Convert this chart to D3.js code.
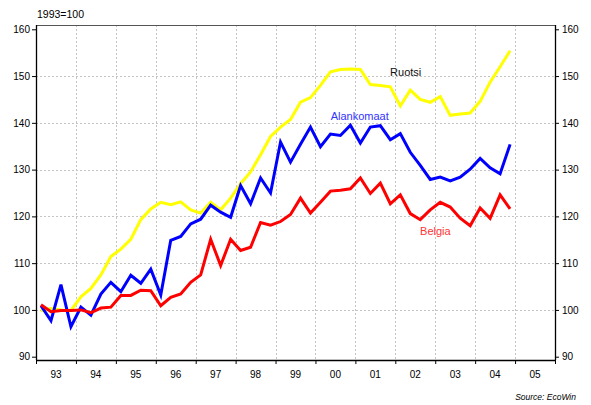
<!DOCTYPE html>
<html>
<head>
<meta charset="utf-8">
<script src="https://cdn.jsdelivr.net/npm/d3@7.9.0/dist/d3.min.js"></script>
<style>
  body { margin: 0; background: #fff; }
  svg { display: block; font-family: "Liberation Sans", Arial, sans-serif; }
</style>
</head>
<body>
<svg id="chart" width="591" height="405"></svg>
<script>
// Quarterly index, 1993=100
const quarters = [
    "1993Q1", "1993Q2", "1993Q3", "1993Q4", "1994Q1", "1994Q2", "1994Q3", "1994Q4",
    "1995Q1", "1995Q2", "1995Q3", "1995Q4", "1996Q1", "1996Q2", "1996Q3", "1996Q4",
    "1997Q1", "1997Q2", "1997Q3", "1997Q4", "1998Q1", "1998Q2", "1998Q3", "1998Q4",
    "1999Q1", "1999Q2", "1999Q3", "1999Q4", "2000Q1", "2000Q2", "2000Q3", "2000Q4",
    "2001Q1", "2001Q2", "2001Q3", "2001Q4", "2002Q1", "2002Q2", "2002Q3", "2002Q4",
    "2003Q1", "2003Q2", "2003Q3", "2003Q4", "2004Q1", "2004Q2", "2004Q3", "2004Q4"
];

const ruotsi = [
    99.8, 100.3, 100.0, 99.9, 102.8, 104.6, 107.5, 111.4,
    113.0, 115.1, 119.3, 121.6, 123.0, 122.5, 123.1, 121.4,
    120.7, 123.0, 121.4, 123.9, 127.0, 129.5, 133.2, 137.1,
    139.1, 140.7, 144.4, 145.4, 148.0, 150.9, 151.4, 151.5,
    151.4, 148.2, 148.0, 147.7, 143.6, 147.0, 145.0, 144.4,
    145.6, 141.6, 141.9, 142.1, 144.6, 148.7, 152.0, 155.4
];

const alankomaat = [
    100.9, 97.7, 105.4, 96.4, 100.6, 98.9, 103.4, 105.9,
    103.9, 107.4, 105.7, 108.7, 103.2, 114.9, 115.7, 118.4,
    119.4, 122.4, 120.9, 119.8, 126.6, 122.7, 128.2, 125.0,
    135.9, 131.6, 135.4, 139.1, 134.9, 137.6, 137.3, 139.5,
    135.7, 139.1, 139.4, 136.4, 137.7, 133.7, 130.9, 127.9,
    128.4, 127.6, 128.4, 130.1, 132.4, 130.4, 129.1, 135.4
];

const belgia = [
    101.1, 99.6, 99.9, 99.9, 100.0, 99.4, 100.4, 100.6,
    103.1, 103.1, 104.2, 104.1, 100.9, 102.7, 103.4, 105.9,
    107.5, 115.1, 109.5, 115.1, 112.7, 113.4, 118.7, 118.1,
    118.9, 120.4, 123.9, 120.7, 123.0, 125.4, 125.6, 125.9,
    128.2, 124.9, 127.1, 122.7, 124.6, 120.6, 119.3, 121.4,
    123.0, 122.0, 119.6, 118.0, 121.8, 119.6, 124.6, 121.6
];

const yearLabels = ["93", "94", "95", "96", "97", "98", "99", "00", "01", "02", "03", "04", "05"];
const yearStarts = [1993, 1994, 1995, 1996, 1997, 1998, 1999, 2000, 2001, 2002, 2003, 2004, 2005, 2006];
const yTicks = [90, 100, 110, 120, 130, 140, 150, 160];
const gridValues = [100, 110, 120, 130, 140, 150];

// Plot frame
const plotLeft = 36, plotRight = 555, plotTop = 25, plotBottom = 360;

const svg = d3.select("#chart");

// quarter "1993Q2" -> middle of that quarter as decimal year
function qPos(q) {
    return +q.slice(0, 4) + (+q.slice(5) - 0.5) / 4;
}

const x = d3.scaleLinear()
    .domain([1993, 2006])
    .range([plotLeft, plotRight]);

const y = d3.scaleLinear()
    .domain([90, 160])
    .range([356.7, 29.3]);

// Grid
const grid = svg.append("g")
    .attr("stroke", "#c4c4c4")
    .attr("stroke-width", 1)
    .attr("stroke-dasharray", "2,2")
    .attr("shape-rendering", "crispEdges");

grid.selectAll("line.h")
    .data(gridValues)
    .enter()
    .append("line")
    .attr("class", "h")
    .attr("x1", plotLeft)
    .attr("x2", plotRight)
    .attr("y1", d => Math.round(y(d)) + 0.5)
    .attr("y2", d => Math.round(y(d)) + 0.5);

grid.selectAll("line.v")
    .data(yearStarts.slice(1, -1))
    .enter()
    .append("line")
    .attr("class", "v")
    .attr("x1", d => Math.round(x(d)) + 0.5)
    .attr("x2", d => Math.round(x(d)) + 0.5)
    .attr("y1", plotTop)
    .attr("y2", plotBottom);

// Lines
const line = d3.line()
    .x((d, i) => x(qPos(quarters[i])))
    .y(d => y(d));

const series = [
    { values: ruotsi, color: "#ffff00" },
    { values: alankomaat, color: "#0000ff" },
    { values: belgia, color: "#ff0000" }
];

svg.selectAll("path.series")
    .data(series)
    .enter()
    .append("path")
    .attr("class", "series")
    .attr("fill", "none")
    .attr("stroke", d => d.color)
    .attr("stroke-width", 3)
    .attr("stroke-linejoin", "miter")
    .attr("d", d => line(d.values));

// Axes
const leftAxis = svg.append("g")
    .attr("transform", `translate(${plotLeft},0)`)
    .call(d3.axisLeft(y).tickValues(yTicks).tickSize(4).tickPadding(2).tickSizeOuter(0));

const rightAxis = svg.append("g")
    .attr("transform", `translate(${plotRight},0)`)
    .call(d3.axisRight(y).tickValues(yTicks).tickSize(4).tickPadding(3).tickSizeOuter(0));

const bottomAxis = svg.append("g")
    .attr("transform", `translate(0,${plotBottom})`)
    .call(d3.axisBottom(x).tickValues(yearStarts).tickFormat("").tickSize(4).tickSizeOuter(0));

[leftAxis, rightAxis, bottomAxis].forEach(g => {
    g.select(".domain").remove();
    g.selectAll("text")
        .attr("fill", "#000")
        .style("font-size", "10px")
        .style("font-family", "'Liberation Sans', Arial, sans-serif");
    g.selectAll(".tick line").attr("stroke", "#000");
});

// Frame lines
svg.append("line")
    .attr("x1", plotLeft).attr("x2", plotRight)
    .attr("y1", plotTop + 0.5).attr("y2", plotTop + 0.5)
    .attr("stroke", "#555");

svg.append("line")
    .attr("x1", plotLeft + 0.5).attr("x2", plotLeft + 0.5)
    .attr("y1", plotTop).attr("y2", plotBottom)
    .attr("stroke", "#000").attr("stroke-width", 1.3);

svg.append("line")
    .attr("x1", plotRight + 0.5).attr("x2", plotRight + 0.5)
    .attr("y1", plotTop).attr("y2", plotBottom)
    .attr("stroke", "#000").attr("stroke-width", 1.3);

svg.append("line")
    .attr("x1", plotLeft).attr("x2", plotRight + 1)
    .attr("y1", plotBottom + 0.5).attr("y2", plotBottom + 0.5)
    .attr("stroke", "#000").attr("stroke-width", 1.3);

// Year labels centred in each year
svg.append("g")
    .selectAll("text")
    .data(yearLabels)
    .enter()
    .append("text")
    .attr("x", (d, i) => x(yearStarts[i] + 0.5))
    .attr("y", 378)
    .attr("text-anchor", "middle")
    .style("font-size", "10px")
    .text(d => d);

// Unit label
svg.append("text")
    .attr("x", 37)
    .attr("y", 18)
    .style("font-size", "10.5px")
    .text("1993=100");

// Series labels
svg.append("text")
    .attr("x", x(2001.87))
    .attr("y", y(150))
    .attr("fill", "#111")
    .style("font-size", "11px")
    .text("Ruotsi");

svg.append("text")
    .attr("x", x(2000.38))
    .attr("y", y(140.6))
    .attr("fill", "#3333ff")
    .style("font-size", "11px")
    .text("Alankomaat");

svg.append("text")
    .attr("x", x(2002.62))
    .attr("y", y(116.1))
    .attr("fill", "#ff3333")
    .style("font-size", "11px")
    .text("Belgia");

// Source
svg.append("text")
    .attr("x", 576)
    .attr("y", 400)
    .attr("text-anchor", "end")
    .style("font-size", "8.5px")
    .style("font-style", "italic")
    .text("Source: EcoWin");
</script>
</body>
</html>
